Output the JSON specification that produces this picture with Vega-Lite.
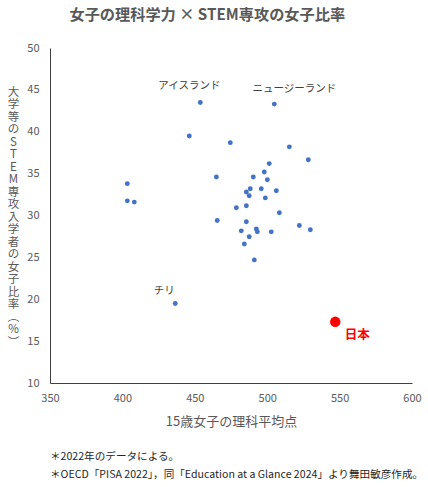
{
  "$schema": "https://vega.github.io/schema/vega-lite/v6.json",
  "autosize": {"type": "pad"},
  "padding": {"left": 7, "top": 8, "right": 3, "bottom": 5},
  "background": "white",
  "title": {
    "text": "女子の理科学力 × STEM専攻の女子比率",
    "fontSize": 15.2,
    "fontWeight": "bold",
    "color": "#595959",
    "font": "Noto Sans CJK JP",
    "anchor": "middle",
    "offset": 18.5,
    "dx": -8
  },
  "vconcat": [
    {
      "width": 362,
      "height": 335,
      "title": {
        "text": ["＊2022年のデータによる。", "＊OECD「PISA 2022」，同「Education at a Glance 2024」より舞田敏彦作成。"],
        "orient": "bottom",
        "anchor": "start",
        "frame": "group",
        "fontSize": 10.6,
        "fontWeight": "normal",
        "color": "#262626",
        "font": "Noto Sans CJK JP",
        "lineHeight": 18,
        "offset": 23
      },
      "data": {
        "values": [
          {"country": "アイスランド", "score": 453.8, "ratio": 43.5, "group": "other"},
          {"country": "ニュージーランド", "score": 504.9, "ratio": 43.3, "group": "other"},
          {"country": "", "score": 446.2, "ratio": 39.5, "group": "other"},
          {"country": "", "score": 474.5, "ratio": 38.7, "group": "other"},
          {"country": "", "score": 403.4, "ratio": 33.8, "group": "other"},
          {"country": "", "score": 403.4, "ratio": 31.75, "group": "other"},
          {"country": "", "score": 408.2, "ratio": 31.6, "group": "other"},
          {"country": "", "score": 464.9, "ratio": 34.6, "group": "other"},
          {"country": "", "score": 465.5, "ratio": 29.4, "group": "other"},
          {"country": "", "score": 515.3, "ratio": 38.2, "group": "other"},
          {"country": "", "score": 528.4, "ratio": 36.65, "group": "other"},
          {"country": "", "score": 501.4, "ratio": 36.2, "group": "other"},
          {"country": "", "score": 498.0, "ratio": 35.2, "group": "other"},
          {"country": "", "score": 490.4, "ratio": 34.6, "group": "other"},
          {"country": "", "score": 500.1, "ratio": 34.26, "group": "other"},
          {"country": "", "score": 488.3, "ratio": 33.2, "group": "other"},
          {"country": "", "score": 485.6, "ratio": 32.8, "group": "other"},
          {"country": "", "score": 487.6, "ratio": 32.35, "group": "other"},
          {"country": "", "score": 495.9, "ratio": 33.2, "group": "other"},
          {"country": "", "score": 506.3, "ratio": 32.95, "group": "other"},
          {"country": "", "score": 498.7, "ratio": 32.1, "group": "other"},
          {"country": "", "score": 485.6, "ratio": 31.16, "group": "other"},
          {"country": "", "score": 478.7, "ratio": 30.92, "group": "other"},
          {"country": "", "score": 508.4, "ratio": 30.32, "group": "other"},
          {"country": "", "score": 485.6, "ratio": 29.25, "group": "other"},
          {"country": "", "score": 522.2, "ratio": 28.8, "group": "other"},
          {"country": "", "score": 529.8, "ratio": 28.3, "group": "other"},
          {"country": "", "score": 482.1, "ratio": 28.17, "group": "other"},
          {"country": "", "score": 492.5, "ratio": 28.4, "group": "other"},
          {"country": "", "score": 493.2, "ratio": 28.05, "group": "other"},
          {"country": "", "score": 502.8, "ratio": 28.05, "group": "other"},
          {"country": "", "score": 487.6, "ratio": 27.46, "group": "other"},
          {"country": "", "score": 484.2, "ratio": 26.6, "group": "other"},
          {"country": "", "score": 491.1, "ratio": 24.7, "group": "other"},
          {"country": "チリ", "score": 436.5, "ratio": 19.5, "group": "other"},
          {"country": "日本", "score": 547.0, "ratio": 17.3, "group": "japan"}
        ]
      },
      "encoding": {
        "x": {
          "field": "score",
          "type": "quantitative",
          "scale": {"domain": [350, 600], "nice": false, "zero": false},
          "axis": {
            "values": [350, 400, 450, 500, 550, 600],
            "title": "15歳女子の理科平均点",
            "titleFontSize": 13,
            "titleFontWeight": "normal",
            "titleColor": "#595959",
            "titleFont": "Noto Sans CJK JP",
            "titlePadding": 12.5,
            "labelPadding": 9,
            "labelFlush": false
          }
        },
        "y": {
          "field": "ratio",
          "type": "quantitative",
          "scale": {"domain": [10, 50], "nice": false, "zero": false},
          "axis": {
            "values": [10, 15, 20, 25, 30, 35, 40, 45, 50],
            "title": ["大","学","等","の","S","T","E","M","専","攻","入","学","者","の","女","子","比","率","︵","%","︶"],
            "titleAngle": 0,
            "titleAlign": "center",
            "titleBaseline": "top",
            "titleX": -37,
            "titleY": 38,
            "titleLineHeight": 12.5,
            "titleFontSize": 11.5,
            "titleFontWeight": "normal",
            "titleColor": "#595959",
            "titleFont": "Noto Sans CJK JP",
            "labelPadding": 11
          }
        }
      },
      "layer": [
        {
          "transform": [{"filter": "datum.group === 'other'"}],
          "mark": {"type": "circle", "size": 24, "color": "#4472C4", "opacity": 1}
        },
        {
          "transform": [{"filter": "datum.group === 'japan'"}],
          "mark": {"type": "circle", "size": 110, "color": "#FF0000", "opacity": 1}
        },
        {
          "transform": [{"filter": "datum.country === 'アイスランド'"}],
          "mark": {"type": "text", "dx": -11, "dy": -16, "fontSize": 10.5, "color": "#404040", "font": "Noto Sans CJK JP"},
          "encoding": {"text": {"field": "country"}}
        },
        {
          "transform": [{"filter": "datum.country === 'ニュージーランド'"}],
          "mark": {"type": "text", "dx": 20, "dy": -15, "fontSize": 10.5, "color": "#404040", "font": "Noto Sans CJK JP"},
          "encoding": {"text": {"field": "country"}}
        },
        {
          "transform": [{"filter": "datum.country === 'チリ'"}],
          "mark": {"type": "text", "dx": -11, "dy": -12, "fontSize": 10.5, "color": "#404040", "font": "Noto Sans CJK JP"},
          "encoding": {"text": {"field": "country"}}
        },
        {
          "transform": [{"filter": "datum.country === '日本'"}],
          "mark": {"type": "text", "dx": 22, "dy": 13, "fontSize": 12.5, "fontWeight": "bold", "color": "#FF0000", "font": "Noto Sans CJK JP"},
          "encoding": {"text": {"field": "country"}}
        }
      ]
    }
  ],
  "config": {
    "view": {"stroke": null},
    "axis": {
      "grid": false,
      "ticks": false,
      "domainColor": "#404040",
      "domainWidth": 1,
      "labelFontSize": 11,
      "labelColor": "#595959",
      "labelFont": "Noto Sans CJK JP"
    }
  }
}
